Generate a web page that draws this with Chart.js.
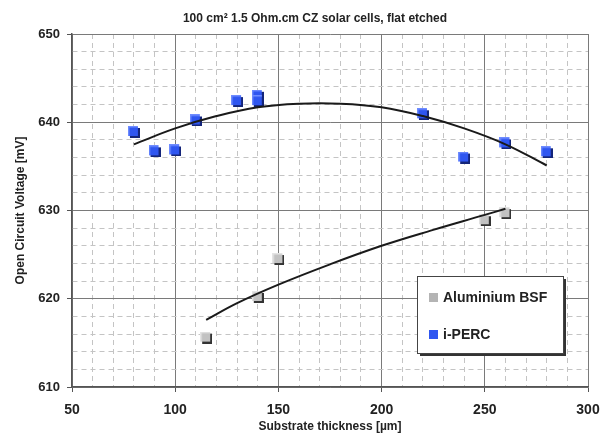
<!DOCTYPE html>
<html>
<head>
<meta charset="utf-8">
<script src="https://cdn.jsdelivr.net/npm/chart.js@4/dist/chart.umd.min.js"></script>
<style>
  html, body { margin: 0; padding: 0; background: #fff; }
  #wrap { width: 613px; height: 435px; }
</style>
</head>
<body>
<div id="wrap"><canvas id="c" width="613" height="435"></canvas></div>
<script>
'use strict';

// measured points
const percX = [80, 90, 100, 110, 130, 140, 140, 220, 240, 260, 280];
const percY = [638.9, 636.7, 636.8, 640.2, 642.4, 643.0, 642.4, 640.9, 636.0, 637.6, 636.6];
const bsfX = [115, 140, 150, 250, 260];
const bsfY = [615.6, 620.2, 624.5, 628.9, 629.7];

// trend lines
const percFitX = [80, 100, 120, 140, 160, 180, 200, 220, 240, 260, 280];
const percFitY = [637.5, 639.3, 640.7, 641.7, 642.1, 642.1, 641.7, 640.7, 639.3, 637.5, 635.1];
const bsfFitX = [115, 130, 150, 175, 200, 225, 250, 260];
const bsfFitY = [617.6, 619.5, 621.6, 623.9, 626.0, 627.8, 629.5, 630.2];

const xTicks = [50, 100, 150, 200, 250, 300];
const yTicks = [610, 620, 630, 640, 650];

const chartTitle = '100 cm² 1.5 Ohm.cm CZ solar cells, flat etched';
const legendItems = ['Aluminium BSF', 'i-PERC'];

const FONT = 'Arial, "Liberation Sans", sans-serif';
const BLUE = '#2f56f0', GREY = '#c2c2c2';

function pts(xs, ys){ return xs.map((x, i) => ({ x, y: ys[i] })); }

// little 3d squares like the Excel markers
function marker(fill, light, shade){
  const c = document.createElement('canvas');
  c.width = 12; c.height = 12;
  const g = c.getContext('2d');
  g.fillStyle = shade; g.fillRect(2, 2, 10, 10);
  g.fillStyle = fill; g.fillRect(0, 0, 10, 10);
  g.fillStyle = light; g.fillRect(0, 0, 10, 1.5); g.fillRect(0, 0, 1.5, 10);
  return c;
}
const blueMark = marker(BLUE, '#6f8cff', '#14257a');
const greyMark = marker(GREY, '#e4e4e4', '#333');

const isMajor = (ctx, step) => ctx.type === 'tick' && ctx.tick && Math.abs(ctx.tick.value % step) < 1e-6;

const overlay = {
  id: 'overlay',
  afterDraw(chart){
    const g = chart.ctx;
    g.save();
    g.fillStyle = '#222';
    g.font = 'bold 12px ' + FONT;
    g.textAlign = 'center';
    g.textBaseline = 'middle';
    g.fillText(chartTitle, 315, 19);

    // legend box
    const bx = 417, by = 276, bw = 146, bh = 77;
    g.fillStyle = '#333';
    g.fillRect(bx + 3, by + 3, bw, bh);
    g.fillStyle = '#fff';
    g.fillRect(bx, by, bw, bh);
    g.strokeStyle = '#444'; g.lineWidth = 1;
    g.strokeRect(bx + 0.5, by + 0.5, bw, bh);
    const cols = ['#b4b4b4', BLUE];
    const rows = [297, 334];
    g.font = 'bold 14px ' + FONT;
    g.textAlign = 'left';
    legendItems.forEach((t, i) => {
      g.fillStyle = cols[i];
      g.fillRect(429, rows[i] - 4, 9, 9);
      g.fillStyle = '#222';
      g.fillText(t, 443, rows[i] + 1);
    });
    g.restore();
  }
};

new Chart(document.getElementById('c'), {
  type: 'scatter',
  data: {
    datasets: [
      { data: pts(percFitX, percFitY), showLine: true, pointRadius: 0, borderColor: '#1a1a1a', borderWidth: 2, tension: 0.4 },
      { data: pts(bsfFitX, bsfFitY), showLine: true, pointRadius: 0, borderColor: '#1a1a1a', borderWidth: 2, tension: 0.4 },
      { data: pts(percX, percY), pointStyle: blueMark, pointRadius: 6 },
      { data: pts(bsfX, bsfY), pointStyle: greyMark, pointRadius: 6 }
    ]
  },
  options: {
    responsive: false,
    animation: false,
    layout: { padding: { top: 34, right: 25, left: 0, bottom: 0 } },
    plugins: { legend: { display: false }, tooltip: { enabled: false } },
    scales: {
      x: {
        type: 'linear', min: 50, max: 300,
        afterFit: (s) => { s.height = 48; },
        ticks: {
          stepSize: 10, autoSkip: false, padding: 10, maxRotation: 0, minRotation: 0,
          color: '#222', font: { family: FONT, size: 14, weight: 'bold' },
          callback: (v) => xTicks.includes(v) ? String(v) : ''
        },
        grid: {
          tickLength: 5,
          color: (ctx) => isMajor(ctx, 50) ? '#7a7a7a' : '#c4c4c4',
          tickColor: (ctx) => isMajor(ctx, 50) ? '#555' : 'rgba(0,0,0,0)'
        },
        border: { color: '#555', width: 1.5, dash: (ctx) => ctx.type === 'tick' && !isMajor(ctx, 50) ? [5, 4] : [] },
        title: { display: true, text: 'Substrate thickness [µm]', color: '#222', font: { family: FONT, size: 12, weight: 'bold' }, padding: { top: 0, bottom: 1 } }
      },
      y: {
        type: 'linear', min: 610, max: 650,
        afterFit: (s) => { s.width = 72; },
        ticks: {
          stepSize: 2, autoSkip: false, padding: 7,
          color: '#222', font: { family: FONT, size: 13, weight: 'bold' },
          callback: (v) => yTicks.includes(v) ? String(v) : ''
        },
        grid: {
          tickLength: 5,
          color: (ctx) => isMajor(ctx, 10) ? '#7a7a7a' : '#c4c4c4',
          tickColor: (ctx) => isMajor(ctx, 10) ? '#555' : 'rgba(0,0,0,0)'
        },
        border: { color: '#555', width: 1.5, dash: (ctx) => ctx.type === 'tick' && !isMajor(ctx, 10) ? [5, 4] : [] },
        title: { display: true, text: 'Open Circuit Voltage [mV]', color: '#222', font: { family: FONT, size: 12, weight: 'bold' }, padding: { top: 13, bottom: 0 } }
      }
    }
  },
  plugins: [overlay]
});
</script>
</body>
</html>
